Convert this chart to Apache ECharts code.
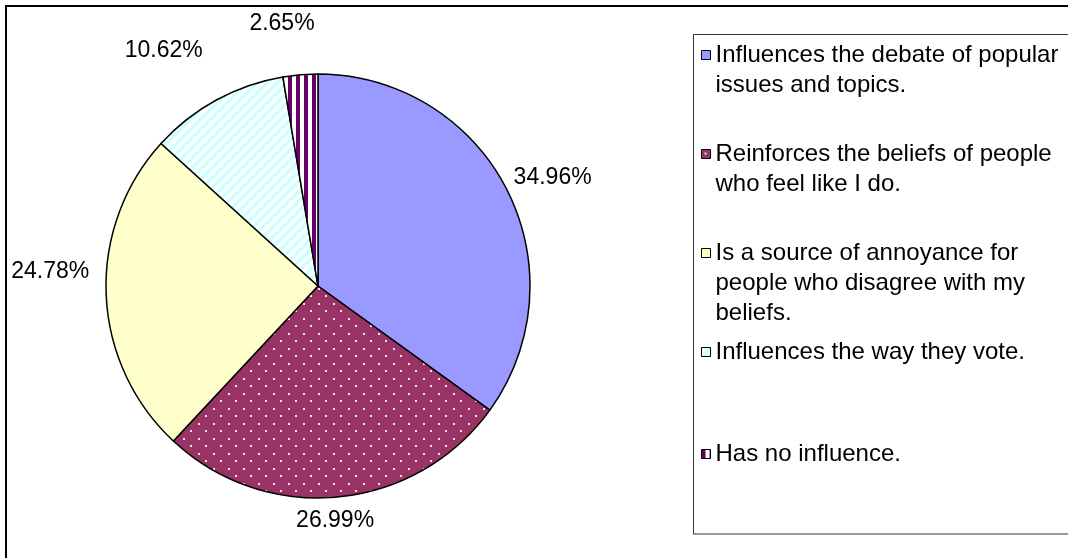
<!DOCTYPE html>
<html>
<head>
<meta charset="utf-8">
<script src="https://cdn.jsdelivr.net/npm/echarts@6/dist/echarts.min.js"></script>
<style>
  html, body { margin: 0; padding: 0; background: #fff; }
  #chart { width: 1068px; height: 558px; }
</style>
</head>
<body>
<div id="chart"></div>
<script>
// Survey answers and their shares (percent)
var categories = [
  'Influences the debate of popular\nissues and topics.',
  'Reinforces the beliefs of people\nwho feel like I do.',
  'Is a source of annoyance for\npeople who disagree with my\nbeliefs.',
  'Influences the way they vote.',
  'Has no influence.'
];
var shares = [34.96, 26.99, 24.78, 10.62, 2.65];

// Fill patterns for each slice
function tile(w, h, draw) {
  var c = document.createElement('canvas');
  c.width = w; c.height = h;
  draw(c.getContext('2d'), w, h);
  return c;
}
var dotted = tile(15, 15, function (g, w, h) {
  g.fillStyle = '#993366'; g.fillRect(0, 0, w, h);
  g.fillStyle = '#f3e2ea';
  g.fillRect(3, 3, 2, 2);
  g.fillRect(10, 10, 2, 2);
});
var diagonal = tile(10, 10, function (g, w, h) {
  g.fillStyle = '#ffffff'; g.fillRect(0, 0, w, h);
  g.strokeStyle = '#ccffff'; g.lineWidth = 3.5;
  g.beginPath();
  g.moveTo(-5, 5); g.lineTo(5, -5);
  g.moveTo(0, 10); g.lineTo(10, 0);
  g.moveTo(5, 15); g.lineTo(15, 5);
  g.stroke();
});
var vertical = tile(8, 8, function (g, w, h) {
  g.fillStyle = '#ffffff'; g.fillRect(0, 0, w, h);
  g.fillStyle = '#660066'; g.fillRect(0, 0, 4, h);
});
var fills = [
  '#9999ff',
  { image: dotted, repeat: 'repeat' },
  '#ffffcc',
  { image: diagonal, repeat: 'repeat' },
  { image: vertical, repeat: 'repeat' }
];

var FONT = '"Liberation Sans", Arial, sans-serif';
var LEGEND_SIZE = 24;
var LABEL_SIZE = 23;
var LINE_H = 30;
var CX = 318, CY = 286, R = 212;

// Extra shift of each percentage label away from its default spot
var labelNudge = [[4, -3], [-8, 4], [-9, -24], [-30, -32], [-15, -32]];

var total = shares.reduce(function (a, b) { return a + b; }, 0);
var midAngles = [];
(function () {
  var acc = 0;
  for (var i = 0; i < shares.length; i++) {
    midAngles.push((acc + shares[i] / 2) / total * Math.PI * 2);
    acc += shares[i];
  }
})();

// One legend per entry so each sits on its own row; blank lines in front
// keep the first text line level with the swatch.
var legendRowCenters = [55, 154, 253, 352, 454];
var legends = categories.map(function (name, i) {
  var lines = name.split('\n').length;
  return {
    data: [name],
    left: 701,
    top: legendRowCenters[i] - (2 * lines - 1) * LINE_H / 2,
    orient: 'vertical',
    padding: 0,
    itemWidth: 9,
    itemHeight: 9,
    itemGap: 0,
    selectedMode: false,
    icon: 'rect',
    itemStyle: { borderColor: '#000', borderWidth: 1 },
    formatter: function (n) {
      var k = n.split('\n').length - 1;
      return new Array(k + 1).join(' \n') + n;
    },
    textStyle: {
      fontFamily: FONT, fontSize: LEGEND_SIZE, color: '#000',
      lineHeight: LINE_H
    }
  };
});

var chart = echarts.init(document.getElementById('chart'), null, { renderer: 'canvas' });
chart.setOption({
  backgroundColor: '#ffffff',
  animation: false,
  graphic: [
    {
      type: 'rect', z: -10,
      shape: { x: 6, y: 6, width: 1200, height: 700 },
      style: { fill: 'none', stroke: '#000', lineWidth: 2 }
    },
    {
      type: 'rect', z: -9,
      shape: { x: 693.5, y: 34.5, width: 500, height: 499.5 },
      style: { fill: '#fff', stroke: '#333', lineWidth: 1 }
    }
  ],
  legend: legends,
  series: [{
    type: 'pie',
    center: [CX, CY],
    radius: R,
    startAngle: 90,
    clockwise: true,
    silent: true,
    avoidLabelOverlap: false,
    itemStyle: { borderColor: '#000', borderWidth: 1.5 },
    label: {
      show: true,
      position: 'outside',
      formatter: function (p) { return p.value.toFixed(2) + '%'; },
      fontFamily: FONT,
      fontSize: LABEL_SIZE,
      color: '#000'
    },
    labelLine: { show: false },
    // Anchor each label a little beyond the rim at the slice's middle angle,
    // sliding the text box outward on the side facing away from the pie
    labelLayout: function (p) {
      var i = p.dataIndex;
      var a = midAngles[i];
      var sx = Math.sin(a), cy = Math.cos(a);
      var w = p.labelRect.width, h = p.labelRect.height;
      var ax = CX + sx * (R + 8), ay = CY - cy * (R + 8);
      return {
        x: ax + sx * w / 2 + labelNudge[i][0],
        y: ay - cy * h / 2 + labelNudge[i][1],
        align: 'center',
        verticalAlign: 'middle'
      };
    },
    emphasis: { disabled: true },
    data: categories.map(function (name, i) {
      return { name: name, value: shares[i], itemStyle: { color: fills[i] } };
    })
  }]
});
</script>
</body>
</html>
